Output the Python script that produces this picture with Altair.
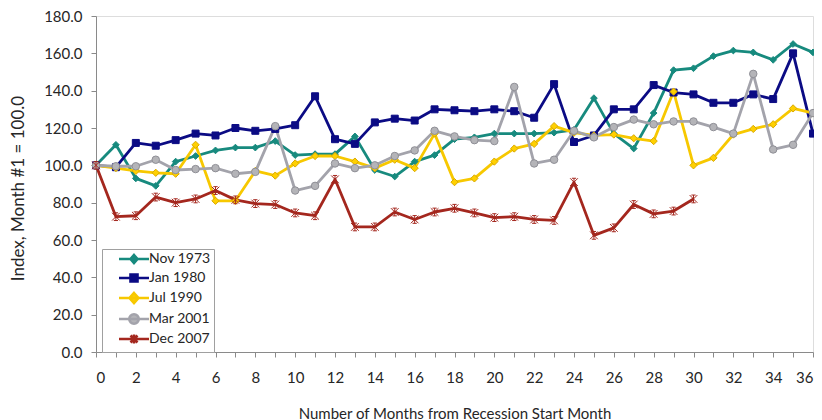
import altair as alt
import pandas as pd

months = list(range(37))
series_names = ["Nov 1973", "Jan 1980", "Jul 1990", "Mar 2001", "Dec 2007"]

nov_1973 = [100, 111, 93, 89, 102, 105, 108, 109.5, 109.5, 113, 105.5, 106, 106, 115.5, 97.5, 94,
            102, 105.5, 114, 115, 117, 117, 117, 117.5, 119, 136, 117, 109, 128, 151, 152, 158.5,
            161.5, 160.5, 156.5, 165, 160.5]
jan_1980 = [100, 99, 112, 110.5, 113.5, 117, 116, 120, 118.5, 119.5, 121.5, 137, 114, 111.5, 123, 125,
            124, 130, 129.5, 129, 130, 129, 125.5, 143.5, 112.5, 116, 130, 130, 143, 139, 138, 133.5,
            133.5, 138, 135.5, 160, 117]
jul_1990 = [100, 98.5, 97, 96, 95.5, 111, 81, 81, 97, 94.5, 101, 105, 105, 102, 98.5, 103,
            98.5, 117, 91, 93, 102, 109, 111.5, 121, 117.5, 116, 116.5, 114.5, 113, 139.5, 100, 104,
            116.5, 119.5, 122, 130.5, 128]
mar_2001 = [100, 99.5, 99.5, 103, 97.5, 98, 98.5, 95.5, 96.5, 121, 86.5, 89, 101, 98.5, 100, 105,
            108, 118.5, 115.5, 113.5, 113, 142, 101, 103, 118.5, 115, 120.5, 124.5, 122, 123.5, 123.5, 120.5,
            117, 149, 108.5, 111, 128]
dec_2007 = [100, 72.5, 73, 83, 80, 82, 86.5, 81.5, 79.5, 79, 74.5, 73, 92.5, 67, 67, 75,
            71, 75, 77, 74.5, 72, 72.5, 71, 70.5, 91, 62.5, 66.5, 79, 74, 75.5, 82]

y_ticks = [0, 20, 40, 60, 80, 100, 120, 140, 160, 180]

all_values = [nov_1973, jan_1980, jul_1990, mar_2001, dec_2007]
rows = []
for order, (name, vals) in enumerate(zip(series_names, all_values)):
    for m, v in zip(months, vals):
        rows.append({"month": m, "value": v, "series": name, "order": order})
df = pd.DataFrame(rows)

line_colors = ["#178a7e", "#0b0b84", "#f7c800", "#a3a3ab", "#a4271e"]
fill_colors = ["#178a7e", "#0b0b84", "#ffd000", "#b4b4b8", "#a4271e"]
stroke_colors = ["#178a7e", "#0b0b84", "#d9a900", "#8f8f96", "#a4271e"]

star = "M-1,-1L1,1M-1,1L1,-1M-0.55,-1L0.55,-1M-0.55,1L0.55,1M0,-1L0,1"
shapes = ["diamond", "square", "diamond", "circle", star]
sizes = [45, 60, 80, 95, 70]
widths = [1, 1, 1, 1, 1.8]

# legend symbols (size 100 -> 1 unit = 5 px): line segment + marker
leg_paths = [
    "M-3,0L3,0M0,-0.8L0.7,0L0,0.8L-0.7,0Z",
    "M-3,0L3,0M-0.7,-0.7L0.7,-0.7L0.7,0.7L-0.7,0.7Z",
    "M-3,0L3,0M0,-1L0.9,0L0,1L-0.9,0Z",
    "M-3,0L3,0M0.95,0A0.95,0.95,0,1,1,-0.95,0A0.95,0.95,0,1,1,0.95,0Z",
    "M-3,0L3,0M-0.7,-0.7L0.7,0.7M-0.7,0.7L0.7,-0.7M0,-0.9L0,0.9",
]

FONT = "Lato"
TXT = "#262626"
AX = dict(grid=False, domainColor="#8a8a8a", tickColor="#8a8a8a",
          labelFontSize=15, labelColor=TXT,
          titleColor=TXT, titleFontWeight="normal", labelOverlap=False,
          labelFont=FONT, titleFont=FONT, tickSize=5)

base = alt.Chart(df)

x_enc = alt.X("month:Q",
              scale=alt.Scale(domain=[0, 36], nice=False),
              axis=alt.Axis(values=months, labelExpr="datum.value % 2 == 0 ? datum.label : ''",
                            title="Number of Months from Recession Start Month", titleFontSize=15,
                            titleY=61, titleBaseline="middle", labelPadding=13, **AX))
y_enc = alt.Y("value:Q",
              scale=alt.Scale(domain=[0, 180], nice=False),
              axis=alt.Axis(values=y_ticks, format=".1f", title="Index, Month #1 = 100.0",
                            titleFontSize=17,
                            titleX=-78, titleY=172, titleAngle=270, titleAlign="center",
                            titleBaseline="middle", labelPadding=9, **AX))

lines = base.mark_line(strokeWidth=2.8, strokeJoin="round").encode(
    x=x_enc,
    y=y_enc,
    color=alt.Color("series:N", scale=alt.Scale(domain=series_names, range=line_colors), legend=None),
    detail="series:N",
    order="month:Q",
)

points = base.mark_point(filled=True, opacity=1).encode(
    x=x_enc,
    y=y_enc,
    shape=alt.Shape("series:N", scale=alt.Scale(domain=series_names, range=shapes), legend=None),
    fill=alt.Fill("series:N", scale=alt.Scale(domain=series_names, range=fill_colors), legend=None),
    stroke=alt.Stroke("series:N", scale=alt.Scale(domain=series_names, range=stroke_colors), legend=None),
    size=alt.Size("series:N", scale=alt.Scale(domain=series_names, range=sizes), legend=None),
    strokeWidth=alt.StrokeWidth("series:N", scale=alt.Scale(domain=series_names, range=widths), legend=None),
    order="order:Q",
)

leg = alt.Legend(orient="none", legendX=6, legendY=233, title=None,
                 symbolSize=100, symbolStrokeWidth=2.6, symbolOffset=22,
                 labelFont=FONT, labelFontSize=14, labelColor=TXT,
                 labelOffset=8, rowPadding=0, padding=3,
                 fillColor="white", strokeColor="#a0a0a0")

legend_layer = base.transform_filter("false").mark_point(filled=True, opacity=1, size=100, strokeWidth=2.6).encode(
    x=x_enc,
    y=y_enc,
    shape=alt.Shape("series:N", scale=alt.Scale(domain=series_names, range=leg_paths), legend=leg),
    fill=alt.Fill("series:N", scale=alt.Scale(domain=series_names, range=fill_colors), legend=leg),
    stroke=alt.Stroke("series:N", scale=alt.Scale(domain=series_names, range=line_colors), legend=leg),
)

chart = alt.layer(lines, points, legend_layer).resolve_scale(
    shape="independent", fill="independent", stroke="independent"
).properties(
    width=717, height=336,
    autosize=alt.AutoSizeParams(type="none"),
    padding={"left": 88, "top": 8, "right": 1, "bottom": 70},
).configure_view(stroke=None).configure_axis(labelOverlap=False).configure(background="white")

chart.save("out.html", embed_options={"renderer": "svg", "actions": False})
